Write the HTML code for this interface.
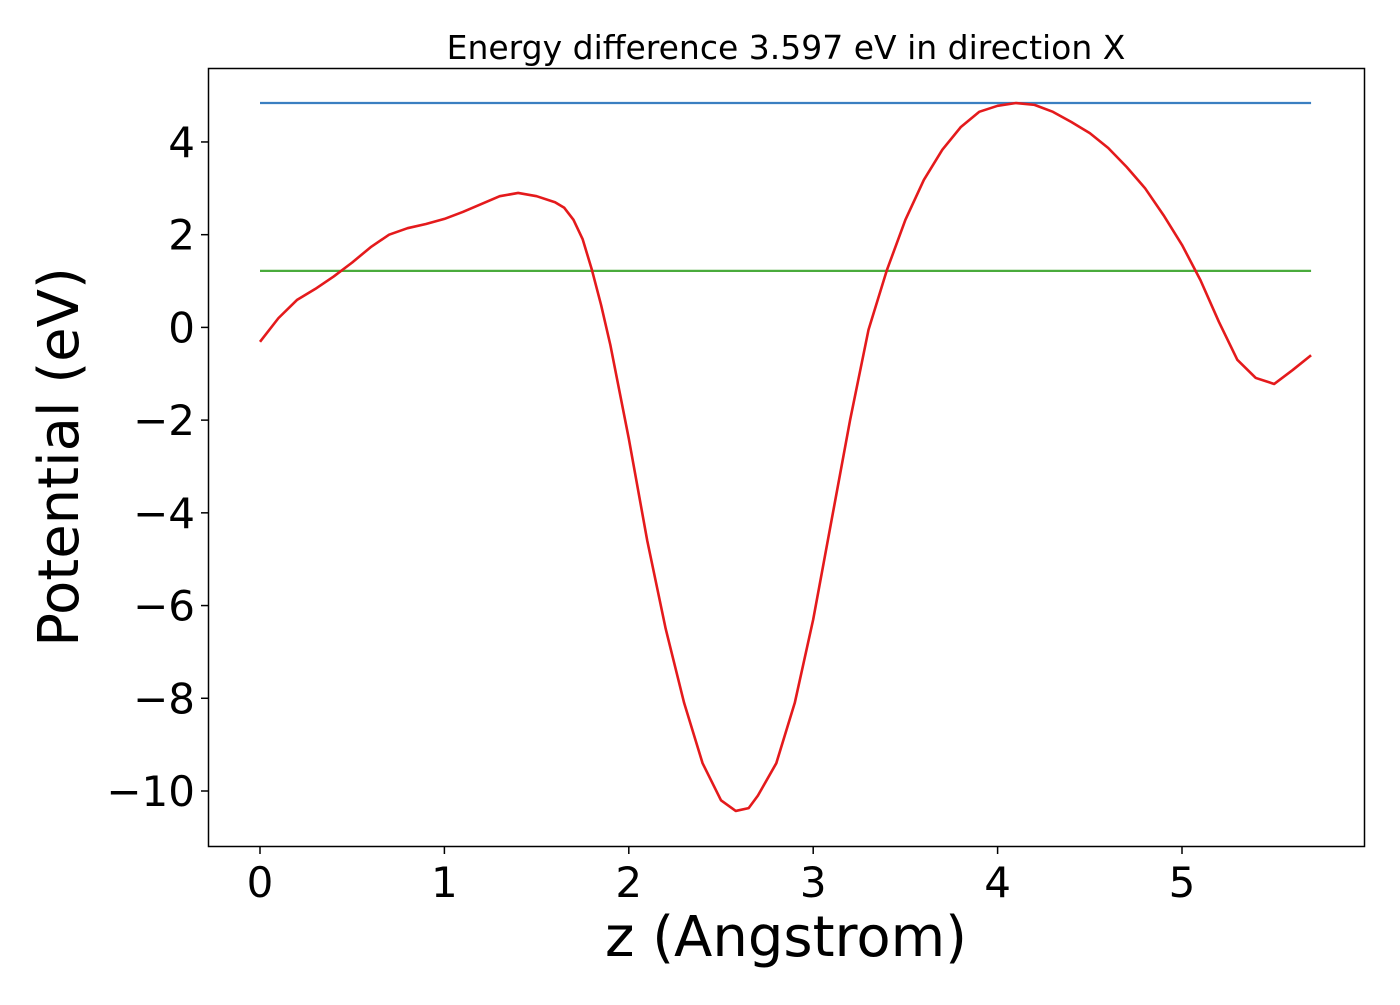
<!DOCTYPE html>
<html><head><meta charset="utf-8"><style>
body{margin:0;background:#fff;}
svg text{font-family:"DejaVu Sans","Liberation Sans",sans-serif;fill:#000;}
</style></head><body>
<svg id="chart" width="1400" height="1000" xmlns="http://www.w3.org/2000/svg">
<text x="786" y="59" font-size="33" text-anchor="middle">Energy difference 3.597 eV in direction X</text>
<g id="plot"></g>
<rect x="208.5" y="68.5" width="1156" height="778" fill="none" stroke="#000" stroke-width="1.5"/>
<text x="786" y="956" font-size="56" text-anchor="middle">z (Angstrom)</text>
<text transform="translate(78,457) rotate(-90)" font-size="56" text-anchor="middle">Potential (eV)</text>
</svg>
<script>
const zVals=[0,0.1,0.2,0.3,0.4,0.5,0.6,0.7,0.8,0.9,1.0,1.1,1.2,1.3,1.4,1.5,1.6,1.65,1.7,1.75,1.8,1.85,1.9,2.0,2.1,2.2,2.3,2.4,2.5,2.58,2.65,2.7,2.8,2.9,3.0,3.1,3.2,3.3,3.4,3.5,3.6,3.7,3.8,3.9,4.0,4.1,4.2,4.3,4.4,4.5,4.6,4.7,4.8,4.9,5.0,5.1,5.2,5.3,5.4,5.5,5.6,5.7];
const potential=[-0.31,0.2,0.59,0.83,1.1,1.4,1.73,2.0,2.14,2.23,2.34,2.49,2.66,2.83,2.9,2.83,2.7,2.58,2.32,1.9,1.24,0.48,-0.38,-2.4,-4.6,-6.5,-8.1,-9.4,-10.2,-10.43,-10.37,-10.1,-9.4,-8.1,-6.3,-4.15,-2.0,-0.05,1.24,2.32,3.18,3.83,4.32,4.65,4.78,4.84,4.8,4.65,4.43,4.19,3.87,3.46,3.0,2.42,1.78,1.02,0.12,-0.7,-1.09,-1.22,-0.92,-0.6];
const maxLevel=[4.84];
const fermiLevel=[1.22];
const xTicks=[0,1,2,3,4,5];
const yTicks=[4,2,0,-2,-4,-6,-8,-10];
const xs=v=>260+v*184.4;
const ys=v=>327.4-v*46.36;
const NS='http://www.w3.org/2000/svg';
const g=document.getElementById('plot');
function mk(t,a){const e=document.createElementNS(NS,t);for(const k in a)e.setAttribute(k,a[k]);g.appendChild(e);return e;}
const z0=zVals[0],z1=zVals[zVals.length-1];
let b=mk('line',{x1:xs(z0),x2:xs(z1),y1:ys(maxLevel[0]),y2:ys(maxLevel[0]),stroke:'#3a7fc1','stroke-width':2.2});


let gr=mk('line',{x1:xs(z0),x2:xs(z1),y1:ys(fermiLevel[0]),y2:ys(fermiLevel[0]),stroke:'#4aab3c','stroke-width':2.2});


let p=mk('polyline',{points:zVals.map((z,i)=>xs(z)+','+ys(potential[i])).join(' '),fill:'none',stroke:'#e41a1c','stroke-width':2.6,'stroke-linejoin':'round'});


xTicks.forEach(t=>{
 const l=mk('line',{x1:xs(t),x2:xs(t),y1:847,y2:854,stroke:'#000','stroke-width':1.5});
 
 
 const tx=mk('text',{x:xs(t),y:897,'font-size':42,'text-anchor':'middle'});tx.textContent=t;
 
 
});
yTicks.forEach(t=>{
 const l=mk('line',{x1:201,x2:208,y1:ys(t),y2:ys(t),stroke:'#000','stroke-width':1.5});
 
 
 const tx=mk('text',{x:195,y:ys(t)+15,'font-size':42,'text-anchor':'end'});tx.textContent=(t<0?'\u2212'+(-t):t);
 
 
});
</script>
</body></html>
